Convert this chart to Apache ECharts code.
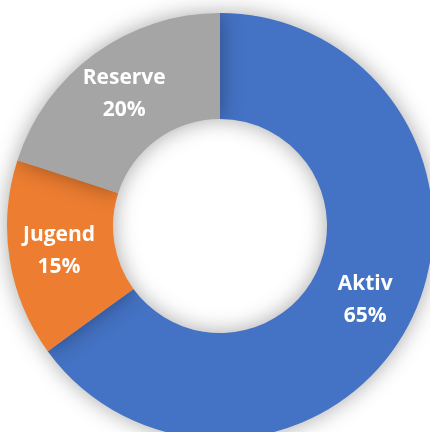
<!DOCTYPE html>
<html>
<head>
    <meta charset="UTF-8">
    <script type="text/javascript" src="https://cdn.jsdelivr.net/npm/echarts@6/dist/echarts.min.js"></script>
</head>
<body style="margin: 0;padding: 0;background: #ffffff;">
<div id="main" style="width: 430px;height:432px;"></div>
<script>
    // Daten
    var kategorien = ['Aktiv', 'Jugend', 'Reserve']
    var anteile = [65, 15, 20]
    var farben = ['#4472C4', '#ED7D31', '#A5A5A5']

    var chart = echarts.init(document.getElementById('main'));
    var pieData = []
    for (var i = 0; i < kategorien.length; i++) {
        pieData.push({name: kategorien[i], value: anteile[i], itemStyle: {color: farben[i]}})
    }
    var option = {
        animation: false,
        series: [{
            type: 'pie',
            center: [220, 226],
            radius: [107, 213],
            startAngle: 90,
            clockwise: true,
            avoidLabelOverlap: false,
            itemStyle: {
                shadowBlur: 22,
                shadowColor: 'rgba(0,0,0,0.35)'
            },
            label: {
                show: true,
                position: 'inside',
                formatter: '{b}\n{d}%',
                color: '#ffffff',
                fontFamily: 'Open Sans',
                fontWeight: 'bold',
                fontSize: 21,
                lineHeight: 32
            },
            labelLine: {show: false},
            data: pieData
        }]
    };
    chart.setOption(option);
</script>
</body>
</html>
